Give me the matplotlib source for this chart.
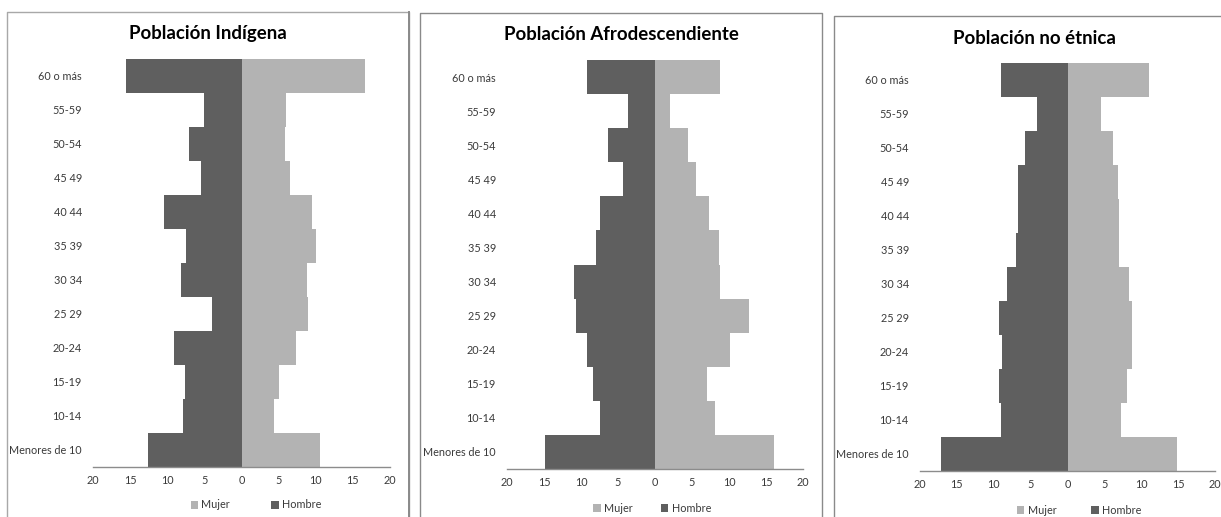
import matplotlib
matplotlib.use("Agg")
import matplotlib.pyplot as plt
from matplotlib.patches import Patch
from matplotlib.lines import Line2D

plt.rcParams['font.family'] = ['Lato', 'DejaVu Sans']

categories = ["Menores de 10", "10-14", "15-19", "20-24", "25-29", "30-34",
              "35-39", "40-44", "45-49", "50-54", "55-59", "60 o más"]
tick_labels = ["Menores de 10", "10-14", "15-19", "20-24", "25 29", "30 34",
               "35 39", "40 44", "45 49", "50-54", "55-59", "60 o más"]

titles = ["Población Indígena", "Población Afrodescendiente", "Población no étnica"]

# values ordered from "Menores de 10" up to "60 o más"
hombre_indigena = [12.6, 7.85, 7.6, 9.1, 3.95, 8.2, 7.5, 10.4, 5.5, 7.05, 5.0, 15.5]
mujer_indigena = [10.6, 4.35, 5.0, 7.3, 9.0, 8.8, 10.1, 9.55, 6.5, 5.8, 5.95, 16.6]

hombre_afro = [14.9, 7.5, 8.4, 9.2, 10.65, 11.0, 7.95, 7.5, 4.35, 6.4, 3.6, 9.2]
mujer_afro = [16.05, 8.05, 7.0, 10.1, 12.7, 8.85, 8.6, 7.25, 5.6, 4.4, 2.0, 8.85]

hombre_noetnica = [17.1, 9.0, 9.25, 8.9, 9.25, 8.2, 7.0, 6.7, 6.65, 5.75, 4.2, 9.0]
mujer_noetnica = [14.9, 7.3, 8.1, 8.7, 8.7, 8.35, 6.95, 6.95, 6.8, 6.2, 4.6, 11.0]

xticks = [-20, -15, -10, -5, 0, 5, 10, 15, 20]
xtick_labels = ["20", "15", "10", "5", "0", "5", "10", "15", "20"]

hombres = [hombre_indigena, hombre_afro, hombre_noetnica]
mujeres = [mujer_indigena, mujer_afro, mujer_noetnica]

W, H = 1221, 517
fig = plt.figure(figsize=(W / 100, H / 100), dpi=100)
fig.patch.set_facecolor("white")

DARK = "#5f5f5f"
LIGHT = "#b3b3b3"
TXT = "#3a3a3a"


def rect(x0, x1, ytop, ybot):
    return [x0 / W, 1 - ybot / H, (x1 - x0) / W, (ybot - ytop) / H]


def fline(xs, ys, color="#8c8c8c", lw=1.0):
    fig.add_artist(Line2D([x / W for x in xs], [1 - y / H for y in ys],
                          color=color, lw=lw, transform=fig.transFigure))


# panel borders
fline([7, 7, 409, 409], [530, 12, 12, 530], color="#a8a8a8", lw=1.0)
fline([408.5, 408.5], [12, 530], color="#8a8a8a", lw=1.4)
fline([420, 420, 822, 822], [530, 13, 13, 530], color="#8a8a8a", lw=1.0)
fline([834, 834, 1225], [530, 16, 16], color="#8a8a8a", lw=1.0)

panels = [
    dict(ax=(93, 390, 59, 467), title=(208, 33), leg=(256, 505), colsp=3.8),
    dict(ax=(507, 803, 60, 469), title=(621, 35), leg=(652, 508), colsp=2.6),
    dict(ax=(920, 1215, 63, 471), title=(1034, 38), leg=(1079, 510), colsp=3.2),
]

y = list(range(len(categories)))

for i, p in enumerate(panels):
    ax = fig.add_axes(rect(*p["ax"]))
    ax.barh(y, [-v for v in hombres[i]], height=1.0, color=DARK, linewidth=0)
    ax.barh(y, mujeres[i], height=1.0, color=LIGHT, linewidth=0)
    ax.set_xlim(-20, 20)
    ax.set_ylim(-0.5, len(categories) - 0.5)
    ax.set_xticks(xticks)
    ax.set_xticklabels(xtick_labels)
    ax.set_yticks(y)
    ax.set_yticklabels(tick_labels)
    ax.tick_params(axis="both", length=0, labelsize=7.8, colors=TXT)
    ax.tick_params(axis="y", pad=8)
    ax.tick_params(axis="x", pad=6)
    for s in ["top", "right", "left"]:
        ax.spines[s].set_visible(False)
    ax.spines["bottom"].set_color("#8c8c8c")
    ax.spines["bottom"].set_linewidth(1.0)
    ax.set_facecolor("none")

    tx, ty = p["title"]
    fig.text(tx / W, 1 - ty / H, titles[i], ha="center", va="center",
             fontsize=13.4, fontweight="bold", color="black")

    lx, ly = p["leg"]
    handles = [Patch(facecolor=LIGHT, edgecolor="none", label="Mujer"),
               Patch(facecolor=DARK, edgecolor="none", label="Hombre")]
    fig.legend(handles=handles, loc="center", bbox_to_anchor=(lx / W, 1 - ly / H),
               ncol=2, frameon=False, fontsize=7.8, labelcolor=TXT,
               handlelength=0.7, handleheight=0.7, handletextpad=0.3,
               columnspacing=p["colsp"], borderpad=0, borderaxespad=0)

fig.savefig("out.png", dpi=100, facecolor="white")
